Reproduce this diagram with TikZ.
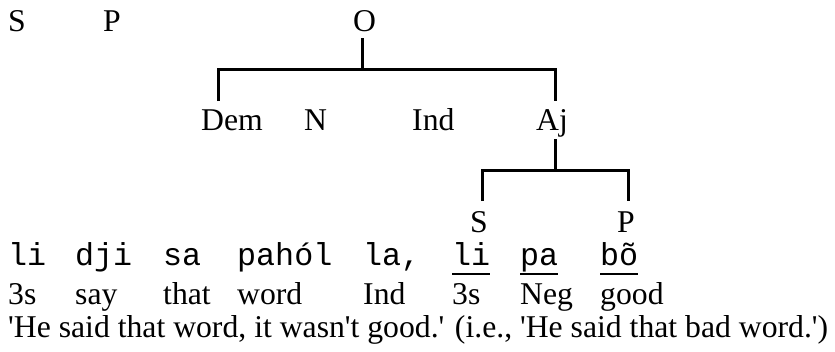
\documentclass[tikz,border=0pt]{standalone}
\usepackage{fontspec}
\setmainfont{Liberation Serif}
\newfontfamily\formfont{Liberation Mono}

\begin{document}
\begin{tikzpicture}[x=1pt,y=-1pt]
  \tikzstyle{category}=[anchor=base west,inner sep=0pt,font=\fontsize{31.7}{34}\selectfont]
  \tikzstyle{form}=[category,font=\formfont\fontsize{31.7}{34}\selectfont,text depth=9pt]
  \tikzstyle{gloss}=[category]
  \tikzstyle{branch}=[draw=black,line width=3pt]
  \tikzstyle{underlined}=[draw=black,line width=1.6pt]

  \useasboundingbox (0,0) rectangle (835,351);

  % Draw the clause level
  \node[category] (S) at (8,31) {S};
  \node[category] (P) at (103,31) {P};
  \node[category] (O) at (353,31) {O};

  % Draw the object phrase
  \foreach \name / \x in {Dem/201,N/304,Ind/412,Aj/536}
  \node[category] (\name) at (\x,130) {\name};

  % Draw the adjective clause
  \node[category] (S-2) at (470,232) {S};
  \node[category] (P-2) at (617,232) {P};

  % Branch points
  \coordinate (O-stem) at (362,38);
  \coordinate (O-fork) at (362,69);
  \coordinate (Dem-leg) at (218,101);
  \coordinate (Aj-leg) at (555,101);
  \coordinate (Aj-stem) at (555,139);
  \coordinate (Aj-fork) at (555,170);
  \coordinate (S-leg) at (482,201);
  \coordinate (P-leg) at (628,201);

  % Connect the tree
  \draw[branch] (O-stem) -- (O-fork);
  \draw[branch] (Dem-leg) |- (O-fork) -| (Aj-leg);
  \draw[branch] (Aj-stem) -- (Aj-fork);
  \draw[branch] (S-leg) |- (Aj-fork) -| (P-leg);

  % Draw the example and its glosses
  \foreach \name / \x / \wform / \wgloss in {1/8/li/3s,2/75/dji/say,3/163/sa/that,
    4/237/pahól/word,5/363/{la,}/Ind,6/452/li/3s,7/520/pa/Neg,8/600/bõ/good}
  {
    \node[form] (F-\name) at (\x,265) {\wform};
    \node[gloss] (G-\name) at (\x,304) {\wgloss};
  }

  \foreach \name in {6,7,8}
  \draw[underlined] (F-\name.south west) -- (F-\name.south east);

  % Free translation
  \node[category] (free) at (8,337) {\textquotesingle He said that word, it wasn\textquotesingle t good.\textquotesingle{} (i.e., \textquotesingle He said that bad word.\textquotesingle)};
\end{tikzpicture}
\end{document}
